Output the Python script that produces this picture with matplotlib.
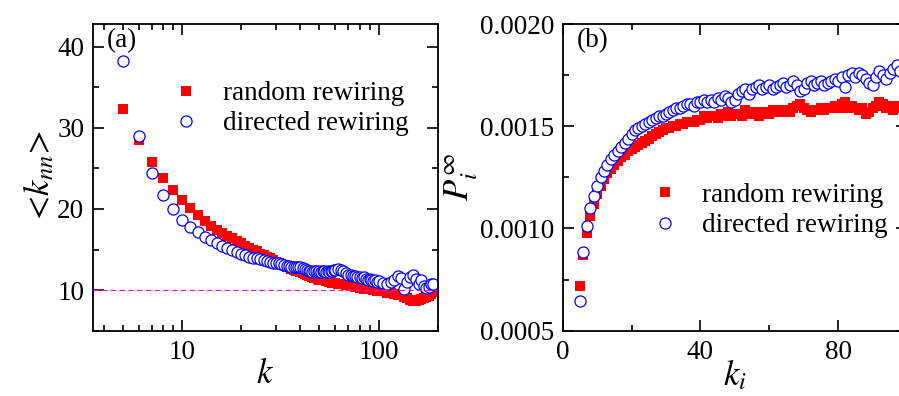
import numpy as np
import matplotlib
matplotlib.use('Agg')
import matplotlib.pyplot as plt
from matplotlib.ticker import MultipleLocator, FixedLocator, NullFormatter

plt.rcParams['font.family'] = ['Liberation Serif', 'DejaVu Serif']
plt.rcParams['mathtext.fontset'] = 'stix'

################# data, panel (a) ################################
k_a = list(range(5, 61)) + list(range(62, 101, 2)) + \
    [105, 110, 115, 120, 125, 130, 135, 140, 145, 150, 155, 160, 165, 170, 175, 180, 185, 190]
knn_random = [32.3, 28.5, 25.8, 23.8, 22.3, 21.1, 20.1, 19.3, 18.5, 17.9,
              17.4, 17.0, 16.7, 16.4, 16.1, 15.8, 15.5, 15.2, 15.0, 14.8,
              14.5, 14.3, 14.1, 13.9, 13.7, 13.5, 13.4, 13.2, 13.1, 12.9,
              12.8, 12.6, 12.5, 12.4, 12.3, 12.2, 12.1, 12.0, 11.9, 11.8,
              11.7, 11.6, 11.5, 11.5, 11.4, 11.3, 11.3, 11.2, 11.2, 11.1,
              11.1, 11.0, 11.0, 10.9, 10.9, 10.9,
              10.8, 10.7, 10.7, 10.6, 10.6, 10.5, 10.5, 10.4, 10.4, 10.3,
              10.3, 10.2, 10.2, 10.2, 10.1, 10.1, 10.0, 10.0, 9.9, 9.9,
              9.9, 9.7, 9.6, 9.5, 9.4, 9.4, 9.2, 9.0, 8.8, 8.6,
              8.7, 8.8, 8.9, 9.0, 9.1, 9.3, 9.5, 9.8]
knn_directed = [38.3, 29.0, 24.4, 21.7, 20.0, 18.6, 17.8, 17.2, 16.6, 16.2,
                15.8, 15.5, 15.2, 14.9, 14.7, 14.5, 14.3, 14.1, 14.0, 13.9,
                13.8, 13.7, 13.6, 13.5, 13.4, 13.3, 13.3, 13.2, 13.1, 13.0,
                13.0, 12.9, 12.9, 12.8, 12.9, 12.8, 12.7, 12.6, 12.5, 12.4,
                12.4, 12.2, 12.3, 12.3, 12.2, 12.3, 12.2, 12.3, 12.3, 12.2,
                12.3, 12.2, 12.4, 12.3, 12.5, 12.5,
                12.6, 12.5, 12.3, 12.1, 11.9, 11.9, 11.8, 11.7, 11.6, 11.6,
                11.5, 11.6, 11.4, 11.3, 11.4, 11.2, 11.1, 11.2, 11.0, 11.1,
                10.9, 10.7, 11.0, 11.3, 11.8, 11.5, 10.2, 11.0, 11.6, 11.9,
                11.4, 10.8, 11.2, 10.5, 10.3, 10.4, 10.7, 10.7]

################# data, panel (b) ################################
k_b = list(range(5, 99))
p_random = [0.00072, 0.000869, 0.00098, 0.00106, 0.00112, 0.00117, 0.00121, 0.00124, 0.00127, 0.00129,
            0.00131, 0.00133, 0.00135, 0.00136, 0.00138, 0.00139, 0.00140, 0.00141, 0.00142, 0.00143,
            0.00144, 0.00145, 0.00146, 0.00147, 0.00148, 0.00149, 0.00149, 0.00150, 0.00150, 0.00151,
            0.00151, 0.00152, 0.00152, 0.00152, 0.00153, 0.00153, 0.00155, 0.00154, 0.00155, 0.00155,
            0.00154, 0.00156, 0.00155, 0.00157, 0.00155, 0.00156, 0.00156, 0.00155, 0.00158, 0.00156,
            0.00157, 0.00156, 0.00155, 0.00157, 0.00157, 0.00156, 0.00158, 0.00157, 0.00158, 0.00157,
            0.00158, 0.00157, 0.00159, 0.00160, 0.00161, 0.00159, 0.00158, 0.00157, 0.00158, 0.00158,
            0.00159, 0.00158, 0.00159, 0.00159, 0.00160, 0.00159, 0.00161, 0.00162, 0.00159, 0.00160,
            0.00159, 0.00158, 0.00159, 0.00156, 0.00157, 0.00159, 0.00160, 0.00162, 0.00161, 0.00159,
            0.00160, 0.00158, 0.00159, 0.00160]
p_directed = [0.000647, 0.000883, 0.00101, 0.00110, 0.00116, 0.00121, 0.00125, 0.00128, 0.00131, 0.00134,
              0.00136, 0.00138, 0.00140, 0.00142, 0.00144, 0.00146, 0.00148, 0.00149, 0.00150, 0.00151,
              0.00152, 0.00153, 0.00154, 0.00155, 0.00155, 0.00156, 0.00157, 0.00158, 0.00159, 0.00159,
              0.00160, 0.00161, 0.00161, 0.00160, 0.00162, 0.00162, 0.00163, 0.00162, 0.00163, 0.00162,
              0.00164, 0.00163, 0.00165, 0.00164, 0.00162, 0.00163, 0.00166, 0.00167, 0.00168, 0.00166,
              0.00168, 0.00169, 0.00170, 0.00168, 0.00169, 0.00170, 0.00168, 0.00169, 0.00170, 0.00171,
              0.00169, 0.00170, 0.00172, 0.00170, 0.00167, 0.00168, 0.00171, 0.00172, 0.00170, 0.00171,
              0.00172, 0.00170, 0.00171, 0.00172, 0.00173, 0.00172, 0.00174, 0.00169, 0.00175, 0.00176,
              0.00174, 0.00176, 0.00175, 0.00173, 0.00171, 0.00170, 0.00174, 0.00177, 0.00175, 0.00173,
              0.00176, 0.00178, 0.00180, 0.00177]

labels = ['random rewiring', 'directed rewiring']

################# canvas ################################
fig = plt.figure(figsize=(8.99, 3.96), dpi=100)
W, H = 899.0, 396.0
ax1 = fig.add_axes([92.7 / W, 1 - 330.7 / H, (437.7 - 92.7) / W, (330.7 - 24) / H])
ax2 = fig.add_axes([562.7 / W, 1 - 330.7 / H, (907 - 562.7) / W, (330.7 - 24) / H])

tick_fs = 19.5
leg_fs = 19.5
sq = dict(linestyle='none', marker='s', ms=7.8, mfc='#ff0000', mec='#ff0000', mew=0)
ci = dict(linestyle='none', marker='o', ms=8.0, mfc='white', mec='#0000ff', mew=0.9)


def style_axes(ax):
    for sp in ax.spines.values():
        sp.set_linewidth(1.3)
    ax.tick_params(which='both', direction='in', top=True, right=True,
                   labelsize=tick_fs, width=1.2)
    ax.tick_params(which='major', length=8)
    ax.tick_params(which='minor', length=4.5)
    ax.tick_params(axis='x', pad=7)
    ax.tick_params(axis='y', pad=6)


################# panel (a) ################################
ax1.plot(k_a, knn_random, label=labels[0], **sq)
ax1.plot(k_a, knn_directed, label=labels[1], **ci)
ax1.axhline(10, color='#ff00ff', ls='--', lw=0.9, dashes=(4, 3))
ax1.set_xscale('log')
ax1.set_xlim(3.5, 200)
ax1.set_ylim(5, 42.8)
ax1.yaxis.set_major_locator(FixedLocator([10, 20, 30, 40]))
ax1.yaxis.set_minor_locator(MultipleLocator(5))
ax1.xaxis.set_minor_formatter(NullFormatter())
ax1.set_xticks([10, 100])
ax1.set_xticklabels(['10', '100'])
style_axes(ax1)
ax1.set_xlabel(r'$k$', fontsize=25, labelpad=-5)
ax1.set_ylabel(r'$<\!k_{nn}\!>$', fontsize=25, labelpad=0)
ax1.text(0.04, 0.985, '(a)', transform=ax1.transAxes, fontsize=19.5, va='top', ha='left')
ax1.legend(loc='upper left', bbox_to_anchor=(0.232, 0.814), frameon=False, fontsize=leg_fs,
           handlelength=1.0, handletextpad=0.85, labelspacing=0.2, borderpad=0, borderaxespad=0)

################# panel (b) ################################
ax2.plot(k_b, p_random, label=labels[0], **sq)
ax2.plot(k_b, p_directed, label=labels[1], **ci)
ax2.set_xlim(0, 100)
ax2.set_ylim(0.0005, 0.0020)
ax2.xaxis.set_major_locator(MultipleLocator(40))
ax2.xaxis.set_minor_locator(MultipleLocator(20))
ax2.yaxis.set_major_locator(MultipleLocator(0.0005))
ax2.yaxis.set_minor_locator(MultipleLocator(0.00025))
ax2.yaxis.set_major_formatter(plt.FuncFormatter(lambda v, p: '%.4f' % v))
style_axes(ax2)
ax2.set_xlabel(r'$k_i$', fontsize=25, labelpad=-5)
ax2.set_ylabel(r'$P_i^{\infty}$', fontsize=25, labelpad=0)
ax2.text(0.04, 0.985, '(b)', transform=ax2.transAxes, fontsize=19.5, va='top', ha='left')
ax2.legend(loc='upper left', bbox_to_anchor=(0.259, 0.483), frameon=False, fontsize=leg_fs,
           handlelength=1.0, handletextpad=0.85, labelspacing=0.2, borderpad=0, borderaxespad=0)

fig.savefig('out.png', dpi=100)
